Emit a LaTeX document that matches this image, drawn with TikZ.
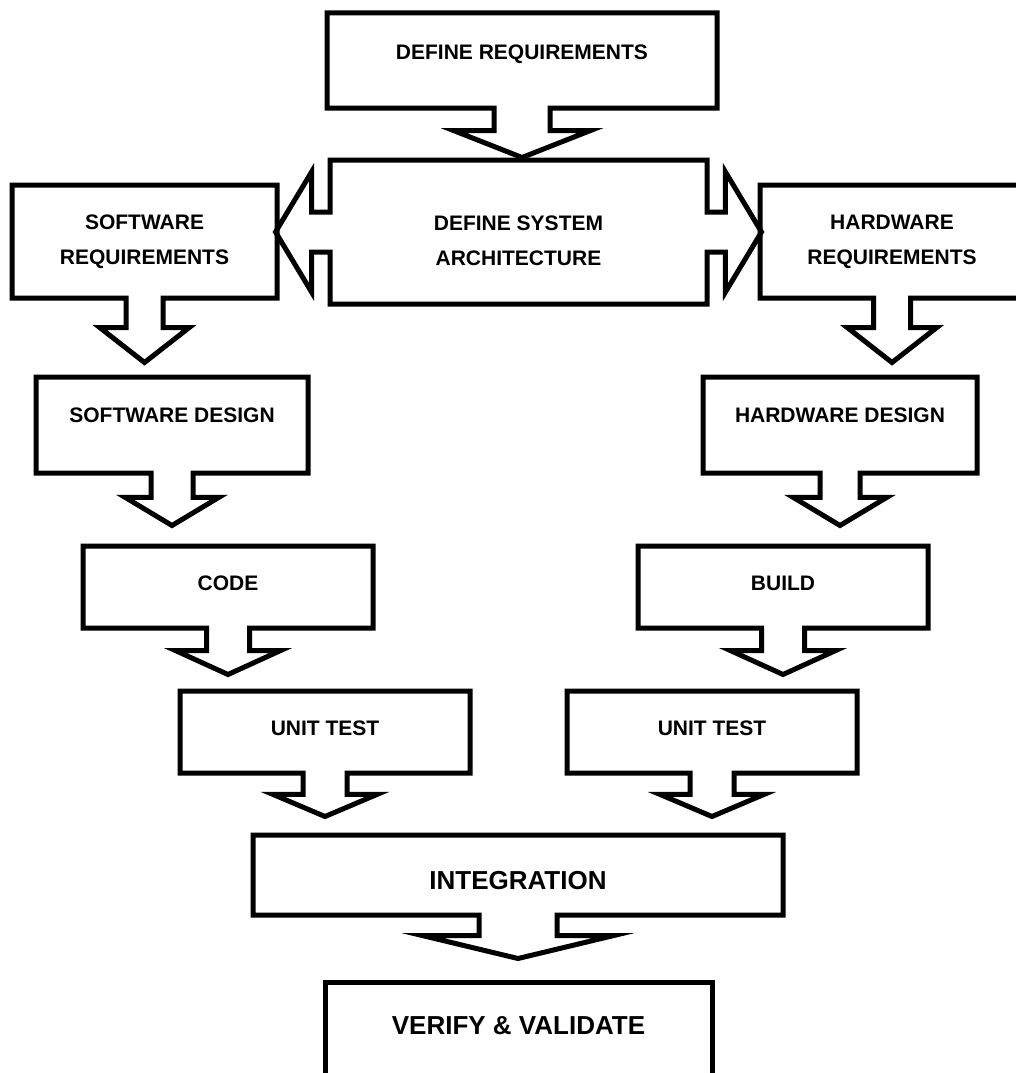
\documentclass[tikz,border=0pt]{standalone}
\usepackage{fontspec}
\setmainfont{Liberation Sans}
\usetikzlibrary{shapes.arrows}

\begin{document}
\begin{tikzpicture}[x=1pt, y=-1pt,
  callout/.style={arrow box, draw, line width=5pt, inner sep=0pt, align=center,
    font=\fontsize{21}{35}\selectfont\bfseries},
  bigbox/.style={font=\fontsize{26}{30}\selectfont\bfseries}]
\useasboundingbox (0,0) rectangle (1016,1073);

% we draw the requirements on top
\node (defreq) [callout, minimum width=390pt, minimum height=95pt,
  text height=15pt, text depth=17pt,
  arrow box arrows={south:47pt}, arrow box shaft width=56pt,
  arrow box head extend=40pt, arrow box tip angle=137] at (522,60.5) {DEFINE REQUIREMENTS};

% the architecture box points to both sides
\node (sysarch) [callout, minimum width=377pt, minimum height=144pt,
  text height=67pt, text depth=0pt,
  arrow box arrows={west:52pt, east:52pt}, arrow box shaft width=40pt,
  arrow box head extend=40pt, arrow box tip angle=118] at (518.5,232) {DEFINE SYSTEM\\ARCHITECTURE};

% software side
\node (swreq) [callout, minimum width=265pt, minimum height=113pt,
  arrow box arrows={south:62pt}, arrow box shaft width=37pt,
  arrow box head extend=26pt, arrow box tip angle=104] at (144.5,241.5) {SOFTWARE\\REQUIREMENTS};

\node (swdesign) [callout, minimum width=272pt, minimum height=96pt,
  text height=15pt, text depth=20pt,
  arrow box arrows={south:50pt}, arrow box shaft width=42pt,
  arrow box head extend=26pt, arrow box tip angle=118] at (172,425) {SOFTWARE DESIGN};

\node (code) [callout, minimum width=290pt, minimum height=82pt,
  text height=15pt, text depth=8pt,
  arrow box arrows={south:44pt}, arrow box shaft width=43pt,
  arrow box head extend=31pt, arrow box tip angle=131] at (228,587) {CODE};

\node (swtest) [callout, minimum width=290pt, minimum height=82pt,
  text height=15pt, text depth=8pt,
  arrow box arrows={south:41pt}, arrow box shaft width=44pt,
  arrow box head extend=30pt, arrow box tip angle=134] at (325,732) {UNIT TEST};

% hardware side
\node (hwreq) [callout, minimum width=264pt, minimum height=113pt,
  arrow box arrows={south:62pt}, arrow box shaft width=37pt,
  arrow box head extend=26pt, arrow box tip angle=104] at (892,241.5) {HARDWARE\\REQUIREMENTS};

\node (hwdesign) [callout, minimum width=274pt, minimum height=96pt,
  text height=15pt, text depth=20pt,
  arrow box arrows={south:50pt}, arrow box shaft width=40pt,
  arrow box head extend=27pt, arrow box tip angle=118] at (840,425) {HARDWARE DESIGN};

\node (build) [callout, minimum width=290pt, minimum height=82pt,
  text height=15pt, text depth=8pt,
  arrow box arrows={south:44pt}, arrow box shaft width=43pt,
  arrow box head extend=31pt, arrow box tip angle=131] at (783,587) {BUILD};

\node (hwtest) [callout, minimum width=290pt, minimum height=82pt,
  text height=15pt, text depth=8pt,
  arrow box arrows={south:41pt}, arrow box shaft width=44pt,
  arrow box head extend=30pt, arrow box tip angle=134] at (712,732) {UNIT TEST};

% both sides come together
\node (integ) [callout, bigbox, minimum width=530pt, minimum height=80pt,
  text height=29pt, text depth=0pt,
  arrow box arrows={south:41pt}, arrow box shaft width=78pt,
  arrow box head extend=56pt, arrow box tip angle=153] at (518,875) {INTEGRATION};

% last box runs off the page
\node (verify) [draw, line width=5pt, inner sep=0pt, bigbox, minimum width=387pt,
  text height=52pt, text depth=58pt, anchor=north] at (518.5,980) {VERIFY \& VALIDATE};

\end{tikzpicture}
\end{document}
